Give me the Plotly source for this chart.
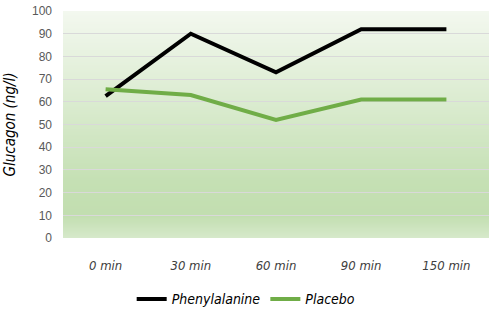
import base64, struct, zlib
import plotly.graph_objects as go

categories = ["0 min", "30 min", "60 min", "90 min", "150 min"]
phenylalanine = [62.5, 90, 73, 92, 92]
placebo = [65.5, 63, 52, 61, 61]
y_ticks = [0, 10, 20, 30, 40, 50, 60, 70, 80, 90, 100]

# vertical gradient image for the plot background (top -> bottom)
stops = [(0.0, (243, 248, 239)), (0.35, (222, 237, 212)), (0.75, (197, 224, 180)),
         (0.9, (194, 222, 176)), (1.0, (214, 233, 202))]
H = 200
rows = b""
for i in range(H):
    t = i / (H - 1)
    for (t0, c0), (t1, c1) in zip(stops[:-1], stops[1:]):
        if t0 <= t <= t1:
            f = (t - t0) / (t1 - t0) if t1 > t0 else 0
            c = tuple(int(round(a + (b - a) * f)) for a, b in zip(c0, c1))
            break
    rows += b"\x00" + bytes(c)
def chunk(tag, data):
    return struct.pack(">I", len(data)) + tag + data + struct.pack(">I", zlib.crc32(tag + data) & 0xffffffff)
png = b"\x89PNG\r\n\x1a\n" + chunk(b"IHDR", struct.pack(">IIBBBBB", 1, H, 8, 2, 0, 0, 0)) \
    + chunk(b"IDAT", zlib.compress(rows)) + chunk(b"IEND", b"")
uri = "data:image/png;base64," + base64.b64encode(png).decode()

script_font = "DejaVu Sans Condensed, Liberation Sans Narrow, Liberation Sans, sans-serif"
xs = list(range(len(categories)))

fig = go.Figure()
fig.add_trace(go.Scatter(x=xs, y=phenylalanine, name="Phenylalanine", mode="lines",
                         line=dict(color="#000000", width=4)))
fig.add_trace(go.Scatter(x=xs, y=placebo, name="Placebo", mode="lines",
                         line=dict(color="#70ad47", width=4)))

fig.add_layout_image(dict(source=uri, xref="paper", yref="paper", x=0, y=1,
                          sizex=1, sizey=1, sizing="stretch", layer="below",
                          xanchor="left", yanchor="top"))

fig.update_layout(
    width=490, height=327,
    margin=dict(l=63, r=1, t=11, b=89),
    paper_bgcolor="white", plot_bgcolor="rgba(0,0,0,0)",
    showlegend=True,
    legend=dict(orientation="h", x=0.43, xanchor="center", y=-0.2, yanchor="top",
                font=dict(family=script_font, size=14, color="#000000", style="italic"),
                itemwidth=30),
    xaxis=dict(range=[-0.5, 4.5], tickvals=xs, ticktext=categories, showgrid=False,
               zeroline=False, showline=False, ticks="", ticklabelstandoff=18,
               tickfont=dict(family=script_font, size=13, color="#404040", style="italic")),
    yaxis=dict(range=[0, 100], tickvals=y_ticks, showgrid=True, gridcolor="#d9d9d9",
               gridwidth=1, zeroline=False, showline=False, ticks="", ticklabelstandoff=10,
               tickfont=dict(family="Liberation Sans, sans-serif", size=12, color="#595959"),
               title=dict(text="Glucagon (ng/l)", standoff=12,
                          font=dict(family=script_font, size=15, color="#000000", style="italic"))),
)

fig.write_html("out.html")
